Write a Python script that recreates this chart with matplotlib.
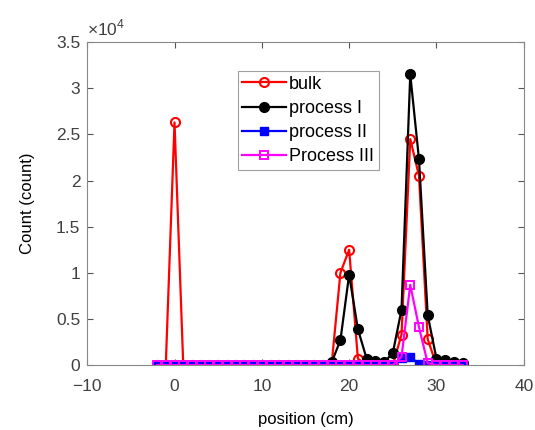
import matplotlib
matplotlib.use("Agg")
import matplotlib.pyplot as plt
import numpy as np

plt.rcParams["font.family"] = ["Liberation Sans", "DejaVu Sans"]
plt.rcParams["mathtext.fontset"] = "custom"
plt.rcParams["mathtext.rm"] = "Liberation Sans"

positions = list(range(-2, 34))

# counts per position (x = -2 .. 33)
bulk = [0, 0, 26300, 0, 0, 0, 0, 0, 0, 0, 0, 0, 0, 0, 0, 0, 0, 0, 0, 0,
        100, 10000, 12500, 700, 0, 0, 0, 0, 3300, 24500, 20500, 2800,
        0, 0, 0, 0]
process_1 = [0, 0, 0, 0, 0, 0, 0, 0, 0, 0, 0, 0, 0, 0, 0, 0, 0, 0, 0, 0,
             300, 2700, 9800, 3900, 700, 400, 300, 1300, 6000, 31500, 22300,
             5400, 700, 500, 300, 200]
process_2 = [0, 0, 0, 0, 0, 0, 0, 0, 0, 0, 0, 0, 0, 0, 0, 0, 0, 0, 0, 0,
             0, 0, 0, 0, 0, 0, 0, 0, 800, 900, 100, 0, 0, 0, 0, 0]
process_3 = [0, 0, 0, 0, 0, 0, 0, 0, 0, 0, 0, 0, 0, 0, 0, 0, 0, 0, 0, 0,
             0, 0, 0, 0, 0, 0, 0, 0, 900, 8700, 4100, 200, 0, 0, 0, 0]

labels = ["bulk", "process I", "process II", "Process III"]
ytick_labels = ["0", "0.5", "1", "1.5", "2", "2.5", "3", "3.5"]

fig = plt.figure(figsize=(5.35, 4.3), dpi=100)
ax = fig.add_axes([0.163, 0.151, 0.816, 0.751])

ax.plot(positions, bulk, color="red", lw=1.6, marker="o", ms=6.5,
        mfc="none", mew=1.5, label=labels[0])
ax.plot(positions, process_1, color="black", lw=1.6, marker="o", ms=7,
        mfc="black", label=labels[1])
ax.plot(positions, process_2, color="blue", lw=1.6, marker="s", ms=5.5,
        mfc="blue", label=labels[2])
ax.plot(positions, process_3, color="magenta", lw=1.6, marker="s", ms=5.5,
        mfc="none", mew=1.4, label=labels[3])

ax.set_xlim(-10, 40)
ax.set_ylim(0, 35000)
ax.set_xticks(np.arange(-10, 41, 10))
ax.set_yticks(np.arange(0, 35001, 5000))
ax.set_yticklabels(ytick_labels)
ax.tick_params(direction="in", top=True, right=True, labelsize=12.5,
               color="#555555", labelcolor="#404040", length=4)
ax.tick_params(axis="x", pad=10)
ax.tick_params(axis="y", pad=5)
for s in ax.spines.values():
    s.set_color("#888888")
    s.set_linewidth(0.8)

ax.text(0.0, 1.012, r"$\times10^4$", transform=ax.transAxes,
        fontsize=12.5, ha="left", va="bottom", color="#404040")

ax.set_xlabel("position (cm)", fontsize=12, labelpad=13)
ax.set_ylabel("Count (count)", fontsize=12, labelpad=15)

leg = ax.legend(loc="upper left", bbox_to_anchor=(0.345, 0.91),
                fontsize=13, frameon=True, fancybox=False,
                handlelength=2.4, borderpad=0.25, labelspacing=0.4,
                handletextpad=0.2, borderaxespad=0)
leg.get_frame().set_edgecolor("#888888")
leg.get_frame().set_linewidth(0.8)

fig.savefig("out.png", dpi=100)
